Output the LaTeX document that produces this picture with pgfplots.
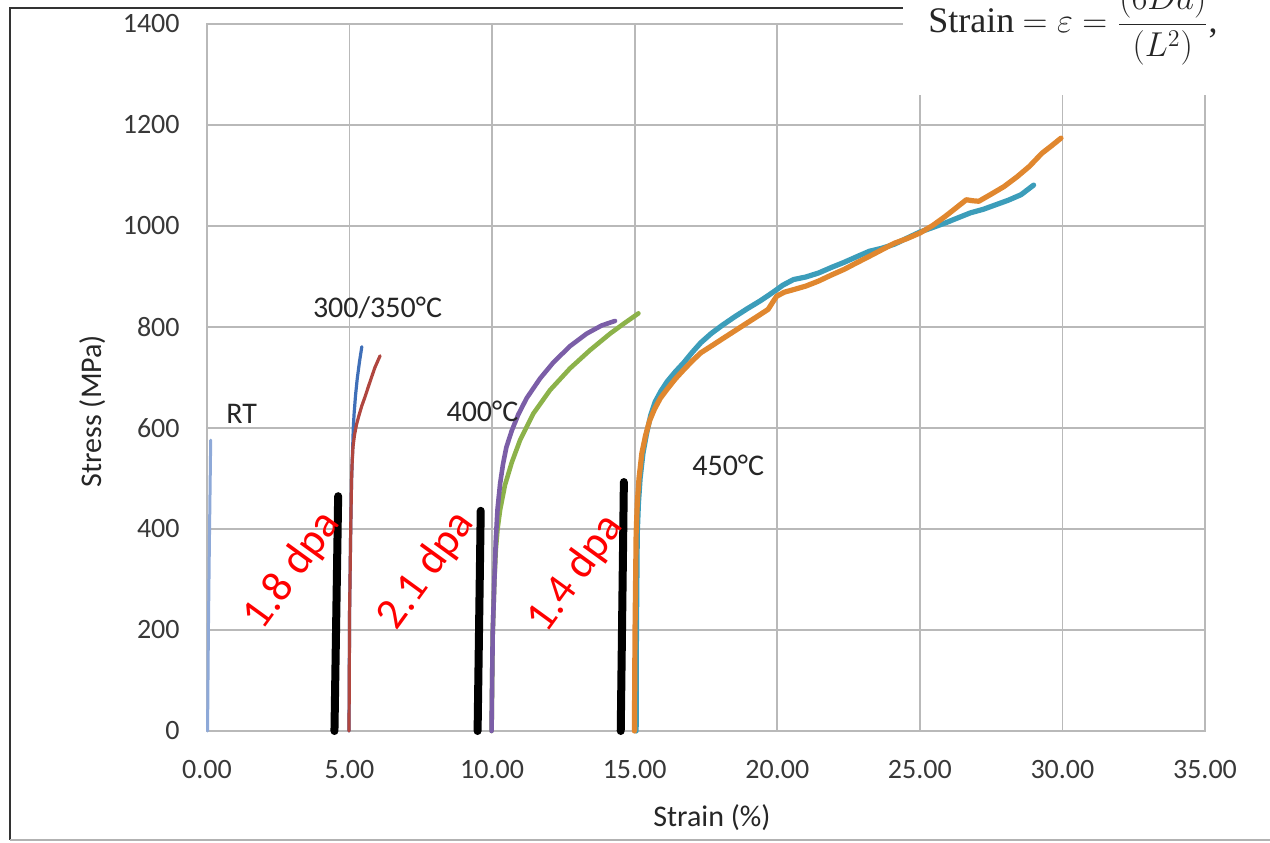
\documentclass[border=0pt]{standalone}
\usepackage{fontspec}
\setmainfont{Carlito}
\newfontfamily\seriffont{Liberation Serif}
\usepackage{pgfplots}
\pgfplotsset{compat=1.18}
\definecolor{rtblue}{HTML}{8EA9D8}
\definecolor{cblue}{HTML}{3F6FB8}
\definecolor{cred}{HTML}{B0463F}
\definecolor{cpurple}{HTML}{7B5EA7}
\definecolor{cgreen}{HTML}{8CB24A}
\definecolor{cteal}{HTML}{3C9DBA}
\definecolor{corange}{HTML}{E0872F}
\begin{document}
\begin{tikzpicture}
\useasboundingbox (-103.5pt,-55.5pt) rectangle (531.5pt,365.5pt);
\begin{axis}[at={(0,0)}, anchor=south west, scale only axis,
  width=499pt, height=353.5pt,
  xmin=0, xmax=35, ymin=0, ymax=1400,
  xtick={0,5,...,35},
  xticklabels={0.00,5.00,10.00,15.00,20.00,25.00,30.00,35.00},
  ytick={0,200,...,1400},
  yticklabels={0,200,400,600,800,1000,1200,1400},
  grid=major,
  major grid style={draw=gray!55, line width=0.8pt},
  axis line style={draw=gray!55, line width=0.8pt},
  major tick length=0pt,
  tick label style={font=\fontsize{14}{16}\selectfont, text=black!78, inner sep=0pt},
  xticklabel style={anchor=center, yshift=-19.5pt},
  yticklabel style={anchor=east, xshift=-13.5pt},
  xlabel={Strain (\%)}, ylabel={Stress (MPa)},
  label style={font=\fontsize{15}{17}\selectfont, text=black!85},
  xlabel style={at={(axis description cs:0.506,-0.123)}, anchor=center},
  ylabel style={at={(axis description cs:-0.1142,0.4526)}, anchor=center},
  clip=false,
  every axis plot/.append style={line join=round, line cap=round},
]
% RT
\addplot[rtblue, line width=1.5pt] coordinates {(0.02,0) (0.05,200) (0.09,400) (0.13,576)};
% black markers
\addplot[black, line width=4pt] coordinates {(4.47,0) (4.60,465)};
\addplot[black, line width=4pt] coordinates {(9.49,0) (9.60,436)};
\addplot[black, line width=4pt] coordinates {(14.51,0) (14.62,493)};
% 300 C (blue)
\addplot[cblue, line width=1.6pt] coordinates {(4.98,0) (5.00,234) (5.04,398) (5.07,497) (5.09,530) (5.11,562) (5.13,600) (5.16,629) (5.21,665) (5.27,698) (5.35,732) (5.43,761)};
% 350 C (red)
\addplot[cred, line width=1.6pt] coordinates {(4.98,0) (4.99,100) (5.00,234) (5.04,398) (5.07,497) (5.09,530) (5.12,562) (5.17,585) (5.24,606) (5.33,625) (5.43,644) (5.55,663) (5.66,682) (5.78,702) (5.89,720) (6.07,743)};
% 400 C (green)
\addplot[cgreen, line width=2.3pt] coordinates {(9.98,0) (10.02,193) (10.08,300) (10.13,360) (10.19,400) (10.28,438) (10.45,487) (10.69,532) (10.98,576) (11.45,629) (12.03,675) (12.73,718) (13.43,754) (14.14,787) (14.60,806) (15.13,827)};
% 400 C (purple)
\addplot[cpurple, line width=2.3pt] coordinates {(9.98,0) (10.00,100) (10.02,193) (10.08,300) (10.13,380) (10.19,440) (10.28,490) (10.38,528) (10.50,562) (10.69,595) (10.92,627) (11.21,659) (11.68,698) (12.15,730) (12.73,762) (13.32,787) (13.84,803) (14.31,812)};
% 450 C (teal)
\addplot[cteal, line width=2.6pt] coordinates {(15.05,0) (15.06,193) (15.09,391) (15.13,450) (15.19,500) (15.29,550) (15.42,590) (15.56,625) (15.72,652) (15.92,673) (16.14,692) (16.42,711) (16.73,730) (17.02,750) (17.32,769) (17.68,787) (18.06,803) (18.50,820) (18.94,836) (19.38,851) (19.83,868) (20.20,883) (20.57,894) (21.00,899) (21.45,907) (21.90,918) (22.34,928) (22.78,939) (23.23,950) (23.67,956) (24.11,964) (24.55,976) (25.0,988) (25.45,997) (25.89,1006) (26.33,1016) (26.77,1026) (27.22,1033) (27.66,1042) (28.10,1051) (28.55,1062) (28.99,1081)};
% 450 C (orange)
\addplot[corange, line width=2.6pt] coordinates {(14.99,0) (15.00,100) (15.01,193) (15.05,391) (15.09,450) (15.15,500) (15.25,550) (15.38,585) (15.52,614) (15.69,637) (15.90,659) (16.14,677) (16.42,697) (16.73,716) (17.02,733) (17.32,749) (17.68,762) (18.06,776) (18.50,792) (18.94,808) (19.30,821) (19.68,835) (19.85,850) (19.98,861) (20.25,869) (20.57,874) (21.00,881) (21.45,891) (21.90,903) (22.34,914) (22.78,927) (23.23,940) (23.67,953) (24.11,966) (24.55,975) (25.0,986) (25.45,1001) (25.89,1019) (26.25,1035) (26.63,1052) (26.85,1050) (27.07,1049) (27.50,1063) (27.95,1078) (28.40,1097) (28.84,1118) (29.28,1144) (29.60,1158) (29.95,1174)};
% labels
\node[font=\fontsize{15}{17}\selectfont, text=black!85] at (axis cs:1.22,628) {RT};
\node[font=\fontsize{15}{17}\selectfont, text=black!85] at (axis cs:5.98,838) {300/350°C};
\node[font=\fontsize{15}{17}\selectfont, text=black!85] at (axis cs:9.66,632) {400°C};
\node[font=\fontsize{15}{17}\selectfont, text=black!85] at (axis cs:18.28,527) {450°C};
\node[rotate=54, text=red, font=\fontsize{22}{24}\selectfont, inner sep=0pt] at (axis cs:3.0,318) {1.8 dpa};
\node[rotate=54, text=red, font=\fontsize{22}{24}\selectfont, inner sep=0pt] at (axis cs:7.7,318) {2.1 dpa};
\node[rotate=54, text=red, font=\fontsize{22}{24}\selectfont, inner sep=0pt] at (axis cs:12.93,312) {1.4 dpa};
\end{axis}
% frame
\draw[black!80, line width=1.2pt] (348pt,361.5pt) -- (-98.5pt,361.5pt) -- (-98.5pt,-54.5pt);
\draw[gray!60, line width=1pt] (-98.5pt,-54.5pt) -- (531.5pt,-54.5pt);
% formula box
\fill[white] (348pt,318pt) rectangle (540pt,370pt);
\node[anchor=base west, inner sep=0pt, font=\fontsize{18}{20}\selectfont, text=black!85] at (360.5pt,349pt) {{\seriffont Strain} $= \varepsilon = \displaystyle\frac{(6Dd)}{(L^2)}${\seriffont ,}};
\end{tikzpicture}
\end{document}
